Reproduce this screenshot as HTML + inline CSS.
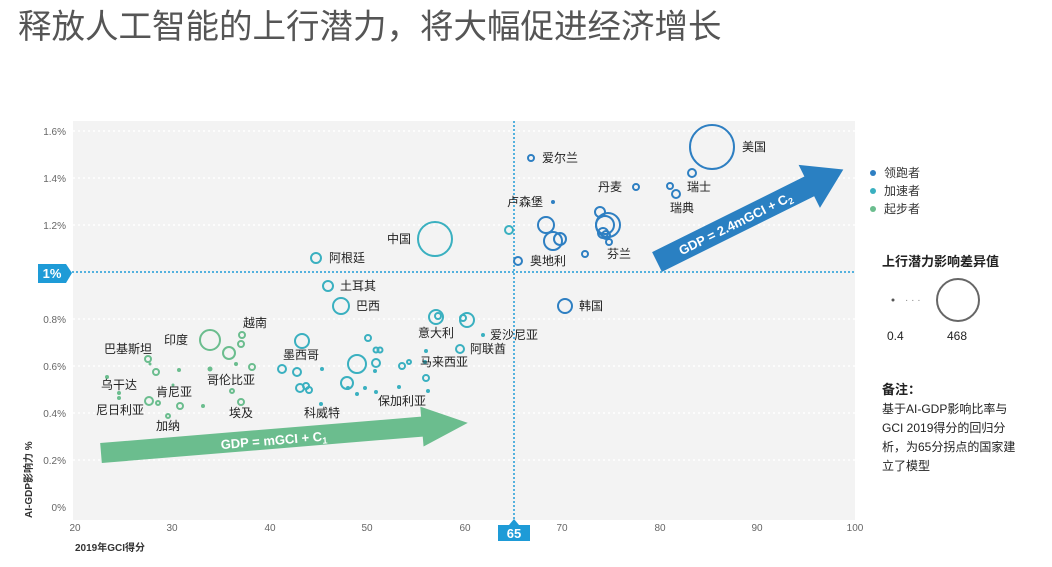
<!DOCTYPE html>
<html><head><meta charset="utf-8"><style>
body{margin:0;background:#fff;}
svg text{font-family:"Liberation Sans","Noto Sans CJK SC",sans-serif;}
</style></head><body>
<svg width="1052" height="562" viewBox="0 0 1052 562" xmlns="http://www.w3.org/2000/svg">
<text x="18" y="38" font-size="33.5" fill="#555">释放人工智能的上行潜力，将大幅促进经济增长</text>
<rect x="73" y="121" width="782" height="399" fill="#f3f3f3"/>
<g stroke="#fff" stroke-width="1.5" stroke-dasharray="2,3">
<line x1="73" x2="855" y1="460" y2="460"/><line x1="73" x2="855" y1="413" y2="413"/><line x1="73" x2="855" y1="366" y2="366"/><line x1="73" x2="855" y1="319" y2="319"/><line x1="73" x2="855" y1="225" y2="225"/><line x1="73" x2="855" y1="178" y2="178"/><line x1="73" x2="855" y1="131" y2="131"/>
</g>
<line x1="514" x2="514" y1="121" y2="520" stroke="#1e9bd7" stroke-width="1.5" stroke-dasharray="2,2"/>
<line x1="68" x2="855" y1="272" y2="272" stroke="#1e9bd7" stroke-width="1.5" stroke-dasharray="2,2"/>
<g font-size="10" fill="#666" text-anchor="end">
<text x="66" y="511">0%</text><text x="66" y="464">0.2%</text><text x="66" y="417">0.4%</text><text x="66" y="370">0.6%</text><text x="66" y="323">0.8%</text><text x="66" y="229">1.2%</text><text x="66" y="182">1.4%</text><text x="66" y="135">1.6%</text>
</g>
<g font-size="10" fill="#666" text-anchor="middle">
<text x="75" y="531">20</text><text x="172" y="531">30</text><text x="270" y="531">40</text><text x="367" y="531">50</text><text x="465" y="531">60</text><text x="562" y="531">70</text><text x="660" y="531">80</text><text x="757" y="531">90</text><text x="855" y="531">100</text>
</g>
<polygon points="38,264 66,264 72,273 66,283 38,283" fill="#1e9bd7"/>
<text x="52" y="278" font-size="13" font-weight="bold" fill="#fff" text-anchor="middle">1%</text>
<polygon points="498,525 530,525 530,541 498,541" fill="#1e9bd7"/>
<polygon points="509,525 514,519 519,525" fill="#1e9bd7"/>
<text x="514" y="538" font-size="13" font-weight="bold" fill="#fff" text-anchor="middle">65</text>
<text x="75" y="551" font-size="10" font-weight="bold" fill="#333">2019年GCI得分</text>
<text transform="translate(32,518) rotate(-90)" font-size="10" font-weight="bold" fill="#333">AI-GDP影响力 %</text>
<g transform="translate(101,453) rotate(-4.7)">
<polygon points="0,-10 322,-10 322,-20 368,0 322,20 322,10 0,10" fill="#6bbd8e"/>
<text x="120" y="6" font-size="13" font-weight="bold" fill="#fff">GDP = mGCI + C<tspan font-size="9" dy="3">1</tspan></text>
</g>
<g transform="translate(657,262) rotate(-26.4)">
<polygon points="0,-11 170,-11 170,-24 208,0 170,24 170,11 0,11" fill="#2a80c2"/>
<text x="25" y="5" font-size="13" font-weight="bold" fill="#fff">GDP = 2.4mGCI + C<tspan font-size="9" dy="3">2</tspan></text>
</g>
<g fill="none" stroke="#2e7fc2" stroke-width="2">
<circle cx="712" cy="147" r="22"/><circle cx="531" cy="158" r="3"/><circle cx="636" cy="187" r="3"/><circle cx="692" cy="173" r="4"/><circle cx="670" cy="186" r="3"/><circle cx="676" cy="194" r="4"/>
<circle cx="546" cy="225" r="8"/><circle cx="553" cy="241" r="9"/><circle cx="560" cy="239" r="6"/><circle cx="600" cy="212" r="5"/><circle cx="605" cy="225" r="9"/><circle cx="608" cy="225" r="12"/><circle cx="603" cy="233" r="5"/><circle cx="606" cy="235" r="4"/><circle cx="609" cy="242" r="3"/>
<circle cx="518" cy="261" r="4"/><circle cx="585" cy="254" r="3"/><circle cx="565" cy="306" r="7"/>
</g>
<circle cx="553" cy="202" r="2" fill="#2e7fc2"/>
<g fill="none" stroke="#3ab0c0" stroke-width="2">
<circle cx="435" cy="239" r="17"/><circle cx="316" cy="258" r="5"/><circle cx="328" cy="286" r="5"/><circle cx="341" cy="306" r="8"/><circle cx="436" cy="317" r="7"/><circle cx="438" cy="316" r="3"/><circle cx="467" cy="320" r="7"/><circle cx="463" cy="318" r="3"/><circle cx="460" cy="349" r="4"/><circle cx="509" cy="230" r="4"/>
<circle cx="302" cy="341" r="7"/><circle cx="282" cy="369" r="4"/><circle cx="297" cy="372" r="4"/><circle cx="300" cy="388" r="4"/><circle cx="306" cy="386" r="3"/><circle cx="309" cy="390" r="3"/>
<circle cx="357" cy="364" r="9"/><circle cx="368" cy="338" r="3"/><circle cx="376" cy="350" r="2.5"/><circle cx="380" cy="350" r="2.5"/><circle cx="376" cy="363" r="4"/><circle cx="347" cy="383" r="6"/><circle cx="402" cy="366" r="3"/><circle cx="426" cy="378" r="3"/><circle cx="409" cy="362" r="2"/>
</g>
<g fill="#3ab0c0">
<circle cx="483" cy="335" r="2"/><circle cx="425" cy="362" r="2"/><circle cx="322" cy="369" r="2"/><circle cx="321" cy="404" r="2"/><circle cx="375" cy="371" r="2"/><circle cx="348" cy="388" r="2"/><circle cx="357" cy="394" r="2"/><circle cx="365" cy="388" r="2"/><circle cx="376" cy="392" r="2"/><circle cx="399" cy="387" r="2"/><circle cx="428" cy="391" r="2"/><circle cx="426" cy="351" r="2"/>
</g>
<g fill="none" stroke="#6bbd8e" stroke-width="2">
<circle cx="210" cy="340" r="10"/><circle cx="229" cy="353" r="6"/><circle cx="242" cy="335" r="3"/><circle cx="241" cy="344" r="3"/><circle cx="252" cy="367" r="3"/><circle cx="148" cy="359" r="3"/><circle cx="156" cy="372" r="3"/><circle cx="149" cy="401" r="4"/><circle cx="158" cy="403" r="2"/><circle cx="180" cy="406" r="3"/><circle cx="241" cy="402" r="3"/><circle cx="232" cy="391" r="2"/><circle cx="168" cy="416" r="2"/>
</g>
<g fill="#6bbd8e">
<circle cx="150" cy="364" r="1.5"/><circle cx="179" cy="370" r="2"/><circle cx="107" cy="377" r="2"/><circle cx="119" cy="393" r="2"/><circle cx="119" cy="398" r="2"/><circle cx="203" cy="406" r="2"/><circle cx="210" cy="369" r="2.5"/><circle cx="236" cy="364" r="2"/><circle cx="173" cy="385" r="1.5"/>
</g>
<g font-size="12" fill="#222">
<text x="742" y="151">美国</text><text x="542" y="162">爱尔兰</text><text x="598" y="191">丹麦</text><text x="687" y="191">瑞士</text><text x="670" y="212">瑞典</text><text x="507" y="206">卢森堡</text><text x="530" y="265">奥地利</text><text x="607" y="258">芬兰</text><text x="579" y="310">韩国</text>
<text x="387" y="243">中国</text><text x="329" y="262">阿根廷</text><text x="340" y="290">土耳其</text><text x="356" y="310">巴西</text><text x="418" y="337">意大利</text><text x="490" y="339">爱沙尼亚</text><text x="470" y="353">阿联酋</text><text x="420" y="366">马来西亚</text><text x="283" y="359">墨西哥</text><text x="378" y="405">保加利亚</text><text x="304" y="417">科威特</text>
<text x="243" y="327">越南</text><text x="164" y="344">印度</text><text x="104" y="353">巴基斯坦</text><text x="101" y="389">乌干达</text><text x="156" y="396">肯尼亚</text><text x="207" y="384">哥伦比亚</text><text x="96" y="414">尼日利亚</text><text x="229" y="417">埃及</text><text x="156" y="430">加纳</text>
</g>
<circle cx="873" cy="173" r="3" fill="#2e7fc2"/><circle cx="873" cy="191" r="3" fill="#3ab0c0"/><circle cx="873" cy="209" r="3" fill="#6bbd8e"/>
<g font-size="12" fill="#333"><text x="884" y="177">领跑者</text><text x="884" y="195">加速者</text><text x="884" y="213">起步者</text></g>
<text x="882" y="266" font-size="13" font-weight="bold" fill="#222">上行潜力影响差异值</text>
<circle cx="893" cy="300" r="1.5" fill="#555"/>
<text x="905" y="303" font-size="10" fill="#888">· · ·</text>
<circle cx="958" cy="300" r="21" fill="none" stroke="#666" stroke-width="2"/>
<text x="887" y="340" font-size="12" fill="#222">0.4</text><text x="947" y="340" font-size="12" fill="#222">468</text>
<text x="882" y="394" font-size="13" font-weight="bold" fill="#222">备注：</text>
<g font-size="12" fill="#222"><text x="882" y="413">基于AI-GDP影响比率与</text><text x="882" y="432">GCI 2019得分的回归分</text><text x="882" y="451">析，为65分拐点的国家建</text><text x="882" y="470">立了模型</text></g>
</svg>
</body></html>
